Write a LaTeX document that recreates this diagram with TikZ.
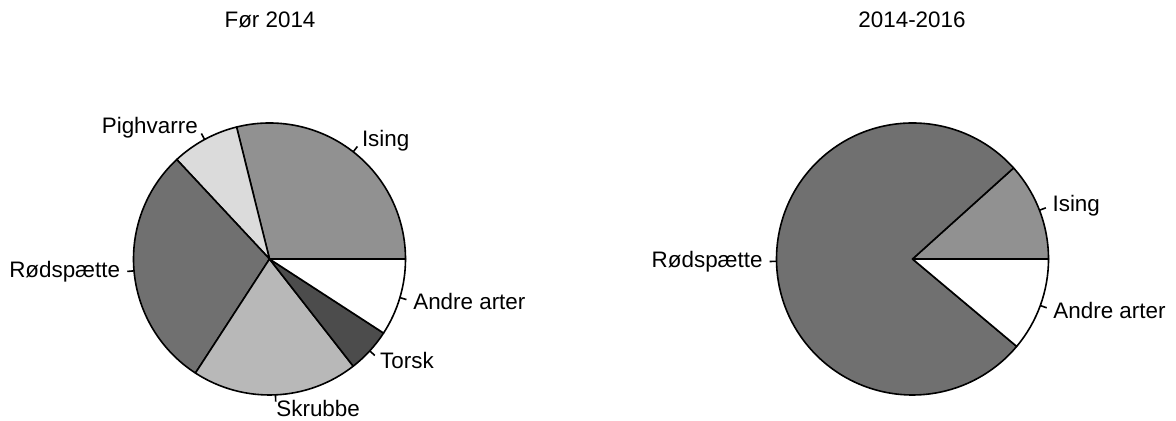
\documentclass[tikz,border=0pt]{standalone}
\usepackage{fontspec}
\setmainfont{Liberation Sans}
\usetikzlibrary{calc}
\definecolor{ising}{gray}{0.57}
\definecolor{pighvarre}{gray}{0.86}
\definecolor{roedspaette}{gray}{0.44}
\definecolor{skrubbe}{gray}{0.72}
\definecolor{torsk}{gray}{0.30}
\tikzset{
    slice/.style={
        draw=black,
        line width=0.8pt,
        line join=round
    },
    tick line/.style={
        draw=black,
        line width=0.8pt
    },
    lbl/.style={
        inner sep=0pt,
        font=\fontsize{11.2}{13}\selectfont
    },
    title/.style={
        inner sep=0pt,
        font=\fontsize{11.2}{13}\selectfont
    }
}
\begin{document}
\begin{tikzpicture}[x=0.5pt,y=0.5pt]
    \useasboundingbox (0,0) rectangle (1176,421);
    \def\rad{136}
    \coordinate (L) at (269.5,162);
    \coordinate (R) at (912.5,162);
    \node[title] (tL) at (270,401) {Før 2014};
    \node[title] (tR) at (912,401) {2014-2016};
    % left pie
    \foreach \a/\b/\c/\n/\t/\p in {0/104/ising/l1/Ising/west,
                                  104/133/pighvarre/l2/Pighvarre/east,
                                  133/237/roedspaette/l3/Rødspætte/east,
                                  237/308/skrubbe/l4/Skrubbe/west,
                                  308/327/torsk/l5/Torsk/west,
                                  327/360/white/l6/Andre arter/west}
    {
        \filldraw[slice, fill=\c] (L) -- ($(L)+(\a:\rad)$) arc[start angle=\a, end angle=\b, radius=\rad] -- cycle;
        \coordinate (\n-in) at ($(L)+({(\a+\b)/2}:\rad)$);
        \coordinate (\n-out) at ($(L)+({(\a+\b)/2}:{1.05*\rad})$);
        \node[lbl, anchor=\p] (\n) at ($(L)+({(\a+\b)/2}:{1.1*\rad})$) {\t};
        \draw[tick line] (\n-in) -- (\n-out);
    }
    % right pie
    \foreach \a/\b/\c/\n/\t/\p in {0/42/ising/r1/Ising/west,
                                  42/320/roedspaette/r2/Rødspætte/east,
                                  320/360/white/r3/Andre arter/west}
    {
        \filldraw[slice, fill=\c] (R) -- ($(R)+(\a:\rad)$) arc[start angle=\a, end angle=\b, radius=\rad] -- cycle;
        \coordinate (\n-in) at ($(R)+({(\a+\b)/2}:\rad)$);
        \coordinate (\n-out) at ($(R)+({(\a+\b)/2}:{1.05*\rad})$);
        \node[lbl, anchor=\p] (\n) at ($(R)+({(\a+\b)/2}:{1.1*\rad})$) {\t};
        \draw[tick line] (\n-in) -- (\n-out);
    }
\end{tikzpicture}
\end{document}
